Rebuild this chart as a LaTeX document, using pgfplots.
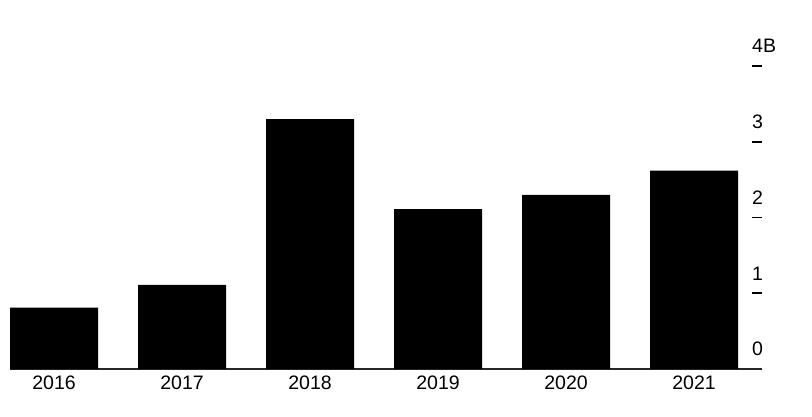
\documentclass[border=0pt]{standalone}
\usepackage{pgfplots}
\pgfplotsset{compat=1.18}
\usepackage{fontspec}
\setmainfont{Liberation Sans}
\begin{document}
\begin{tikzpicture}[x=1pt,y=1pt]
\begin{axis}[
  at={(0,0)}, anchor=south west,
  scale only axis,
  width=752pt, height=303pt,
  xmin=-0.344, xmax=5.531,
  ymin=0, ymax=4,
  ybar, bar width=88pt,
  axis x line*=bottom, axis y line*=right,
  x axis line style={-, line width=1.3pt, color=black!85},
  y axis line style={draw=none},
  xtick=data,
  xticklabels={2016,2017,2018,2019,2020,2021},
  xtick style={draw=none},
  xticklabel style={anchor=north, inner sep=0pt, yshift=3pt},
  ytick={0,1,2,3,4},
  yticklabels={0,1,2,3,4B},
  ytick align=inside,
  major tick length=10pt,
  ytick style={line width=1.6pt, color=black},
  yticklabel style={anchor=south west, inner sep=0pt, xshift=-10pt, yshift=13pt},
  /pgf/number format/assume math mode=true,
  tick label style={font=\fontsize{19.5}{22}\selectfont},
  clip=false,
]
\addplot[fill=black, draw=none] coordinates {
  (0,0.81) (1,1.11) (2,3.30) (3,2.11) (4,2.30) (5,2.62)
};
\end{axis}
\pgfresetboundingbox
\path (-10pt,-47pt) rectangle (802pt,369pt);
\end{tikzpicture}
\end{document}
